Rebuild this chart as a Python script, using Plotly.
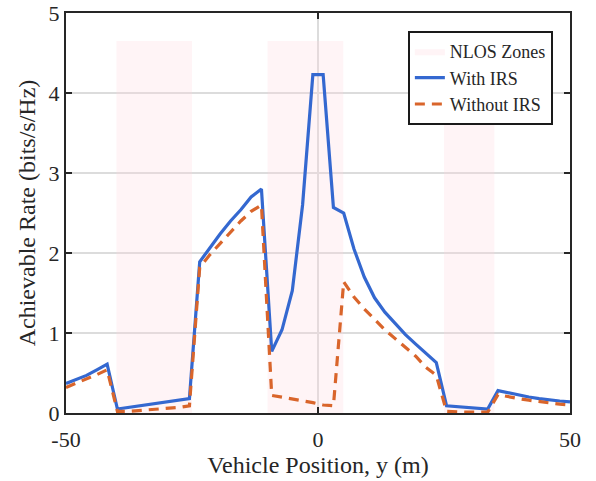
import plotly.graph_objects as go

# Vehicle positions (m), 50 samples across -50..50
positions = [-50.0, -47.96, -45.92, -43.88, -41.84, -39.8, -37.76, -35.71, -33.67, -31.63,
             -29.59, -27.55, -25.51, -23.47, -21.43, -19.39, -17.35, -15.31, -13.27, -11.22,
             -9.18, -7.14, -5.1, -3.06, -1.02, 1.02, 3.06, 5.1, 7.14, 9.18,
             11.22, 13.27, 15.31, 17.35, 19.39, 21.43, 23.47, 25.51, 27.55, 29.59,
             31.63, 33.67, 35.71, 37.76, 39.8, 41.84, 43.88, 45.92, 47.96, 50.0]

rate_with_irs = [0.37, 0.42, 0.47, 0.54, 0.61, 0.05, 0.07, 0.08, 0.10, 0.12,
                 0.14, 0.16, 0.18, 1.89, 2.07, 2.24, 2.40, 2.54, 2.70, 2.80,
                 0.77, 1.04, 1.53, 2.60, 4.23, 4.23, 2.57, 2.50, 2.05, 1.70,
                 1.44, 1.26, 1.12, 0.98, 0.86, 0.74, 0.63, 0.09, 0.08, 0.07,
                 0.06, 0.05, 0.28, 0.25, 0.22, 0.20, 0.18, 0.16, 0.15, 0.14]

rate_without_irs = [0.32, 0.37, 0.42, 0.48, 0.54, 0.02, 0.02, 0.03, 0.04, 0.05,
                    0.06, 0.07, 0.09, 1.82, 1.98, 2.12, 2.27, 2.40, 2.52, 2.60,
                    0.22, 0.20, 0.18, 0.16, 0.13, 0.10, 0.09, 1.64, 1.45, 1.30,
                    1.17, 1.04, 0.93, 0.82, 0.71, 0.57, 0.47, 0.02, 0.01, 0.01,
                    0.01, 0.01, 0.23, 0.21, 0.18, 0.16, 0.14, 0.12, 0.11, 0.10]

nlos_start = [-40, -10, 25]
nlos_end = [-25, 5, 35]
nlos_height = 4.65

x_ticks = [-50, 0, 50]
y_ticks = [0, 1, 2, 3, 4, 5]

FONT = "Liberation Serif, Times New Roman, serif"

# NLOS zone polygons
zx, zy = [], []
for s, e in zip(nlos_start, nlos_end):
    zx += [s, e, e, s, s, None]
    zy += [0, 0, nlos_height, nlos_height, 0, None]

fig = go.Figure()
fig.add_trace(go.Scatter(x=zx, y=zy, mode="lines", fill="toself",
                         fillcolor="rgba(255,210,218,0.25)", line=dict(width=0),
                         name="NLOS Zones", hoverinfo="skip"))
fig.add_trace(go.Scatter(x=positions, y=rate_with_irs, mode="lines", name="With IRS",
                         line=dict(color="#3468D0", width=3.2)))
fig.add_trace(go.Scatter(x=positions, y=rate_without_irs, mode="lines", name="Without IRS",
                         line=dict(color="#D9652B", width=3.2, dash="10px,7px")))

axis_common = dict(
    showline=True, linecolor="#262626", linewidth=2, mirror="ticks",
    ticks="inside", ticklen=6, tickwidth=1.5, tickcolor="#262626",
    showgrid=True, gridcolor="#DCDCDC", gridwidth=2, zeroline=False,
    tickfont=dict(family=FONT, size=22, color="#262626"),
    automargin=False,
)

fig.update_layout(
    width=596, height=481,
    margin=dict(l=66, r=26, t=13, b=68),
    paper_bgcolor="white", plot_bgcolor="white",
    font=dict(family=FONT, color="#262626"),
    xaxis=dict(range=[-50, 50], tickvals=x_ticks, ticktext=[str(v) for v in x_ticks],
               title=dict(text="Vehicle Position, y (m)", font=dict(family=FONT, size=24), standoff=4),
               ticklabelstandoff=6,
               **axis_common),
    yaxis=dict(range=[0, 5], tickvals=y_ticks, ticktext=[str(v) for v in y_ticks],
               title=dict(text="Achievable Rate (bits/s/Hz)", font=dict(family=FONT, size=24), standoff=6),
               **axis_common),
    legend=dict(x=0.966, y=0.955, xanchor="right", yanchor="top",
                bgcolor="white", bordercolor="#1a1a1a", borderwidth=2,
                font=dict(family=FONT, size=18, color="#262626"),
                itemwidth=30, tracegroupgap=0),
    showlegend=True,
)

fig.write_html("out.html")
